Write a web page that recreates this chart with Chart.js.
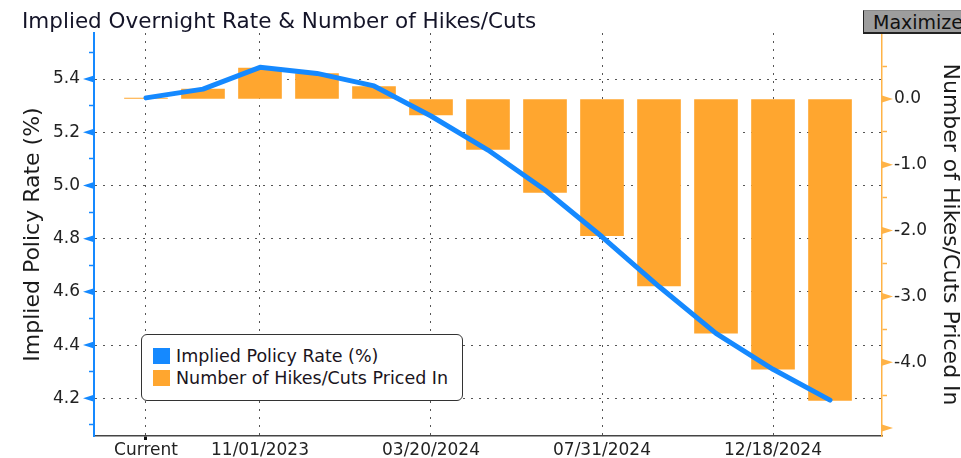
<!DOCTYPE html>
<html><head><meta charset="utf-8">
<script src="https://cdn.jsdelivr.net/npm/chart.js@4.4.0/dist/chart.umd.min.js"></script>
<style>
html,body{margin:0;padding:0;background:#fff;}
#wrap{position:relative;width:961px;height:458px;overflow:hidden;font-family:"DejaVu Sans",sans-serif;}
#c{position:absolute;left:0;top:0;}
#title{position:absolute;left:22px;top:9px;font-size:21.5px;line-height:24px;color:#141428;white-space:nowrap;}
#maxbtn{position:absolute;left:863px;top:10px;width:110px;height:24px;background:#9d9d9d;border-left:1px solid #222;border-bottom:2px solid #222;border-top:1px solid #888;font-size:19px;line-height:22px;padding-left:9px;color:#111;white-space:nowrap;box-sizing:border-box;}
#legend{position:absolute;left:141px;top:334px;width:322px;height:67px;border:1.5px solid #333;border-radius:6px;background:#fff;box-sizing:border-box;}
.li{position:absolute;left:11px;height:22px;font-size:17.5px;line-height:22px;color:#1a1420;white-space:nowrap;}
.sw{display:inline-block;width:17px;height:16px;vertical-align:-2px;margin-right:6px;}
</style>
</head><body>
<div id="wrap">
<canvas id="c" width="961" height="458"></canvas>
<div id="title">Implied Overnight Rate &amp; Number of Hikes/Cuts</div>
<div id="maxbtn">Maximize</div>
<div id="legend"></div>
</div>
<script>
const categories = ['Current','09/20/2023','11/01/2023','12/13/2023','01/31/2024','03/20/2024','05/01/2024','06/12/2024','07/31/2024','09/18/2024','11/07/2024','12/18/2024','01/29/2025'];
const rateValues = [5.329, 5.362, 5.444, 5.421, 5.374, 5.261, 5.133, 4.983, 4.807, 4.620, 4.444, 4.309, 4.193];
const hikeCutValues = [0.015, 0.152, 0.470, 0.385, 0.190, -0.243, -0.765, -1.419, -2.079, -2.840, -3.560, -4.107, -4.583];
const xTickIndices = [0, 2, 5, 8, 11];
const rateMajorTicks = [4.2, 4.4, 4.6, 4.8, 5.0, 5.2, 5.4];
const hikeCutMajorTicks = [0, -1, -2, -3, -4, -5];

const BLUE = '#1589ff', ORANGE = '#ffa62f', AXIS_ORANGE = '#ffb347', GRID = '#555';
const FONT = '"DejaVu Sans",sans-serif';
Chart.defaults.font.family = FONT;
Chart.defaults.color = '#222';

const isRateMajor = v => Math.round(v * 10) % 2 === 0;
const isHikeMajor = v => Math.round(v * 2) % 2 === 0;

const axisMarks = {
  id: 'axisMarks',
  afterDraw(chart) {
    const c = chart.ctx, y = chart.scales.y, y2 = chart.scales.y2;
    c.save();
    c.fillStyle = BLUE;
    rateMajorTicks.forEach(v => {
      const p = y.getPixelForValue(v);
      c.beginPath(); c.moveTo(y.right, p - 3.5); c.lineTo(y.right - 11, p); c.lineTo(y.right, p + 3.5); c.closePath(); c.fill();
    });
    c.fillStyle = AXIS_ORANGE;
    hikeCutMajorTicks.forEach(v => {
      const p = y2.getPixelForValue(v);
      c.beginPath(); c.moveTo(y2.left, p - 3.5); c.lineTo(y2.left + 11, p); c.lineTo(y2.left, p + 3.5); c.closePath(); c.fill();
    });
    c.restore();
  }
};

const chart = new Chart(document.getElementById('c'), {
  type: 'bar',
  data: {
    datasets: [
      {
        type: 'line', label: 'Implied Policy Rate (%)', yAxisID: 'y', order: 0,
        data: rateValues.map((v, i) => ({x: i, y: v})),
        borderColor: BLUE, backgroundColor: BLUE, borderWidth: 5, pointRadius: 0, tension: 0,
        borderCapStyle: 'round', borderJoinStyle: 'round'
      },
      {
        type: 'bar', label: 'Number of Hikes/Cuts Priced In', yAxisID: 'y2', order: 1,
        data: hikeCutValues.map((v, i) => ({x: i, y: v})),
        backgroundColor: ORANGE, borderWidth: 0, barThickness: 43
      }
    ]
  },
  options: {
    responsive: false, animation: false, events: [],
    layout: {padding: {top: 33, left: 0, right: 0, bottom: 0}},
    plugins: {legend: {display: false}, tooltip: {enabled: false}, title: {display: false}},
    scales: {
      x: {
        type: 'linear', offset: false, min: -0.912, max: 12.912,
        afterBuildTicks: s => { s.ticks = xTickIndices.map(v => ({value: v})); },
        afterFit: s => { s.height = 22; },
        ticks: {callback: v => categories[v], font: {size: 17}, color: '#222', padding: 0, maxRotation: 0, autoSkip: false},
        grid: {
          offset: false, drawTicks: true, tickLength: 4, tickWidth: 3,
          color: GRID, lineWidth: 1,
          tickColor: ctx => ctx.index === 0 ? '#111' : 'rgba(0,0,0,0)', tickBorderDash: []
        },
        border: {display: true, color: '#444', width: 1.5, dash: [2, 6]}
      },
      y: {
        type: 'linear', position: 'left', min: 4.0583, max: 5.5729,
        afterBuildTicks: s => { const t = []; for (let k = 41; k <= 55; k++) t.push({value: k / 10}); s.ticks = t; },
        afterFit: s => { s.width = 94; },
        ticks: {callback: v => isRateMajor(v) ? v.toFixed(1) : '', font: {size: 17}, color: '#222', padding: 9, autoSkip: false},
        grid: {
          drawTicks: true, tickLength: 5, tickWidth: 1.5,
          color: ctx => (ctx.tick && isRateMajor(ctx.tick.value)) ? GRID : 'rgba(0,0,0,0)',
          lineWidth: 1,
          tickColor: ctx => (ctx.tick && !isRateMajor(ctx.tick.value)) ? BLUE : 'rgba(0,0,0,0)', tickBorderDash: []
        },
        border: {display: true, color: BLUE, width: 2, dash: [2, 6]},
        title: {display: true, text: 'Implied Policy Rate (%)', font: {size: 22, lineHeight: 1}, color: '#1a1a1a', padding: {top: 22, bottom: 0}}
      },
      y2: {
        type: 'linear', position: 'right', min: -5.122, max: 1.003,
        afterBuildTicks: s => { const t = []; for (let k = -10; k <= 1; k++) t.push({value: k / 2}); s.ticks = t; },
        afterFit: s => { s.width = 79; },
        ticks: {callback: v => (isHikeMajor(v) && v > -5) ? (v === 0 ? '0.0' : v.toFixed(1)) : '', font: {size: 17}, color: '#222', padding: 7, autoSkip: false},
        grid: {
          drawOnChartArea: false, drawTicks: true, tickLength: 5, tickWidth: 1.5,
          tickColor: ctx => (ctx.tick && !isHikeMajor(ctx.tick.value)) ? AXIS_ORANGE : 'rgba(0,0,0,0)', tickBorderDash: []
        },
        border: {display: true, color: AXIS_ORANGE, width: 1.5},
        title: {display: true, text: 'Number of Hikes/Cuts Priced In', font: {size: 22, lineHeight: 1}, color: '#1a1a1a', padding: {top: 0, bottom: 0}}
      }
    }
  },
  plugins: [axisMarks]
});

// HTML legend built from the chart's datasets
const leg = document.getElementById('legend');
chart.data.datasets.forEach((ds, i) => {
  const d = document.createElement('div');
  d.className = 'li';
  d.style.top = (10 + i * 22) + 'px';
  const sw = document.createElement('span');
  sw.className = 'sw';
  sw.style.background = ds.type === 'line' ? ds.borderColor : ds.backgroundColor;
  d.appendChild(sw);
  d.appendChild(document.createTextNode(ds.label));
  leg.appendChild(d);
});
</script>
</body></html>
